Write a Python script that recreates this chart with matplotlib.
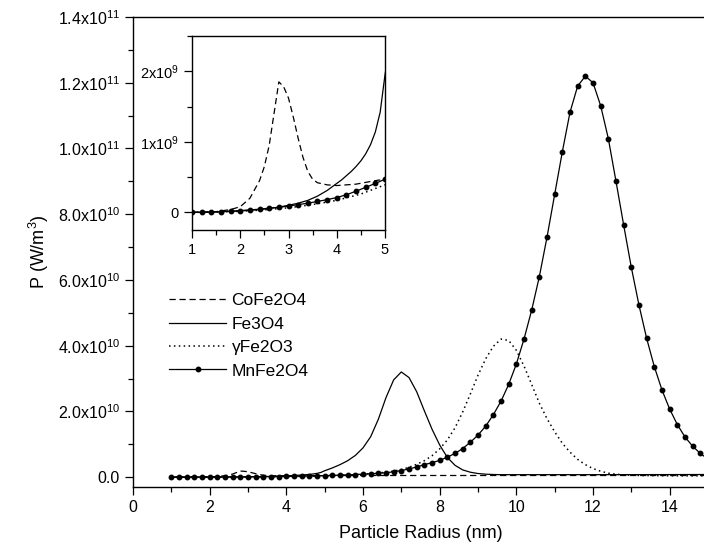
import numpy as np
import matplotlib
matplotlib.use("Agg")
import matplotlib.pyplot as plt
from matplotlib.ticker import MultipleLocator, FuncFormatter

plt.rcParams['font.family'] = ['Liberation Sans', 'DejaVu Sans']
plt.rcParams['mathtext.fontset'] = 'custom'
plt.rcParams['mathtext.rm'] = 'Liberation Sans'
plt.rcParams['mathtext.it'] = 'Liberation Sans:italic'

# data, P in units of 1e9 W/m^3
r_mn = [1.0, 1.2, 1.4, 1.6, 1.8, 2.0, 2.2, 2.4, 2.6, 2.8, 3.0, 3.2, 3.4, 3.6, 3.8,
        4.0, 4.2, 4.4, 4.6, 4.8, 5.0, 5.2, 5.4, 5.6, 5.8, 6.0, 6.2, 6.4, 6.6, 6.8,
        7.0, 7.2, 7.4, 7.6, 7.8, 8.0, 8.2, 8.4, 8.6, 8.8, 9.0, 9.2, 9.4, 9.6, 9.8,
        10.0, 10.2, 10.4, 10.6, 10.8, 11.0, 11.2, 11.4, 11.6, 11.8, 12.0, 12.2, 12.4,
        12.6, 12.8, 13.0, 13.2, 13.4, 13.6, 13.8, 14.0, 14.2, 14.4, 14.6, 14.8, 15.0]
p_mn = [0.0, 0.0, 0.005, 0.01, 0.015, 0.025, 0.035, 0.045, 0.06, 0.07, 0.09, 0.11, 0.13, 0.155, 0.18,
        0.21, 0.25, 0.30, 0.355, 0.41, 0.47, 0.54, 0.62, 0.70, 0.80, 0.91, 1.04, 1.18, 1.35, 1.62,
        2.0, 2.5, 3.1, 3.8, 4.4, 5.1, 6.1, 7.2, 8.7, 10.6, 12.8, 15.5, 19.0, 23.1, 28.2,
        34.4, 42.0, 50.8, 61.0, 73.0, 86.0, 99.0, 111.0, 119.0, 122.0, 120.0, 113.0, 103.0,
        90.0, 76.7, 63.8, 52.3, 42.2, 33.6, 26.5, 20.7, 16.0, 12.2, 9.4, 7.2, 5.5]

r_fe = [1.0, 1.4, 1.8, 2.0, 2.2, 2.4, 2.6, 2.8, 3.0, 3.2, 3.4, 3.6, 3.8, 4.0, 4.1, 4.2, 4.3,
        4.4, 4.5, 4.6, 4.7, 4.8, 4.9, 5.0, 5.2, 5.4, 5.6, 5.8, 6.0, 6.2, 6.4, 6.6, 6.8,
        7.0, 7.2, 7.4, 7.6, 7.8, 8.0, 8.2, 8.4, 8.6, 8.8, 9.0, 9.2, 9.4, 9.6, 10.0, 12.0,
        14.0, 15.0]
p_fe = [0.0, 0.005, 0.015, 0.02, 0.03, 0.04, 0.055, 0.075, 0.1, 0.13, 0.17, 0.23, 0.31, 0.41, 0.46,
        0.52, 0.58, 0.65, 0.73, 0.83, 0.96, 1.14, 1.42, 1.95, 2.8, 3.8, 5.0, 6.6, 8.9, 12.3,
        17.6, 24.2, 29.6, 32.0, 30.3, 26.0, 20.2, 14.6, 9.8, 6.0, 3.6, 2.2, 1.5, 1.1, 0.9, 0.8,
        0.75, 0.75, 0.75, 0.78, 0.8]

r_co = [1.0, 1.5, 1.8, 2.0, 2.2, 2.4, 2.5, 2.6, 2.7, 2.8, 2.9, 3.0, 3.1, 3.2, 3.3, 3.4,
        3.5, 3.6, 3.8, 4.0, 4.4, 4.8, 5.0, 6.0, 8.0, 10.0, 12.0, 15.0]
p_co = [0.0, 0.01, 0.04, 0.08, 0.2, 0.45, 0.65, 0.95, 1.4, 1.85, 1.78, 1.62, 1.35, 1.05, 0.78, 0.58,
        0.47, 0.42, 0.39, 0.38, 0.40, 0.45, 0.47, 0.5, 0.5, 0.5, 0.5, 0.5]

r_ga = [1.0, 1.5, 2.0, 2.5, 3.0, 3.5, 4.0, 4.5, 5.0, 5.5, 6.0, 6.4, 6.8, 7.0, 7.2, 7.4, 7.6,
        7.8, 8.0, 8.2, 8.4, 8.6, 8.8, 9.0, 9.2, 9.4, 9.6, 9.8, 10.0, 10.2, 10.4, 10.6, 10.8,
        11.0, 11.2, 11.4, 11.6, 11.8, 12.0, 12.2, 12.4, 12.6, 12.8, 13.2, 14.0, 15.0]
p_ga = [0.0, 0.005, 0.015, 0.035, 0.065, 0.11, 0.17, 0.26, 0.39, 0.58, 0.88, 1.25, 1.85, 2.3, 3.0, 3.9, 5.0,
        6.5, 8.6, 11.3, 15.0, 19.8, 25.3, 31.0, 36.0, 39.8, 42.0, 41.6, 38.6, 33.8, 28.2, 22.5, 17.8,
        13.8, 10.3, 7.6, 5.4, 3.8, 2.6, 1.8, 1.2, 0.9, 0.7, 0.5, 0.4, 0.4]

series = [
    ('CoFe2O4', r_co, p_co, dict(ls=(0, (5, 3)), lw=0.9)),
    ('Fe3O4', r_fe, p_fe, dict(ls='-', lw=0.9)),
    ('\u03b3Fe2O3', r_ga, p_ga, dict(ls=(0, (1, 2.2)), lw=1.1)),
    ('MnFe2O4', r_mn, p_mn, dict(ls='-', lw=0.9, marker='o', ms=3.2)),
]

W, H = 704, 557
fig = plt.figure(figsize=(W / 100, H / 100), dpi=100)

def sci(v, pos):
    if v == 0:
        return '0.0'
    e = int(np.floor(np.log10(abs(v))))
    m = v / 10 ** e
    return '%.1fx10$^{%d}$' % (m, e)

def sci_inset(v, pos):
    if v == 0:
        return '0'
    e = int(np.floor(np.log10(abs(v))))
    m = v / 10 ** e
    return '%dx10$^{%d}$' % (round(m), e)

def style(ax, fs):
    ax.tick_params(which='both', direction='out', width=0.9, labelsize=fs, color='black')
    ax.tick_params(which='major', length=6)
    ax.tick_params(which='minor', length=3.5)
    for s in ax.spines.values():
        s.set_linewidth(1.0)

# main axes
ax = fig.add_axes([133 / W, 1 - 487 / H, (708 - 133) / W, (487 - 17) / H])
for name, r, p, kw in series:
    ax.plot(r, np.array(p) * 1e9, color='black', label=name, **kw)
ax.set_xlim(0, 15)
ax.set_ylim(-3e9, 1.4e11)
ax.xaxis.set_major_locator(MultipleLocator(2))
ax.xaxis.set_minor_locator(MultipleLocator(1))
ax.yaxis.set_major_locator(MultipleLocator(2e10))
ax.yaxis.set_minor_locator(MultipleLocator(1e10))
ax.yaxis.set_major_formatter(FuncFormatter(sci))
style(ax, 11.5)
ax.set_xlabel('Particle Radius (nm)', fontsize=13, labelpad=7)
ax.set_ylabel('P (W/m$^3$)', fontsize=13, labelpad=5)
ax.legend(loc='upper left', bbox_to_anchor=(162 / W, 1 - 286 / H), bbox_transform=fig.transFigure,
          frameon=False, fontsize=12.5, handlelength=3.3, handletextpad=0.3, labelspacing=0.48,
          borderaxespad=0)

# inset
ins = fig.add_axes([192 / W, 1 - 230 / H, (385 - 192) / W, (230 - 36) / H])
for name, r, p, kw in series:
    ins.plot(r, np.array(p) * 1e9, color='black', **kw)
ins.set_xlim(1, 5)
ins.set_ylim(-0.25e9, 2.5e9)
ins.xaxis.set_major_locator(MultipleLocator(1))
ins.xaxis.set_minor_locator(MultipleLocator(0.5))
ins.yaxis.set_major_locator(MultipleLocator(1e9))
ins.yaxis.set_minor_locator(MultipleLocator(0.5e9))
ins.yaxis.set_major_formatter(FuncFormatter(sci_inset))
style(ins, 10.5)

fig.savefig('out.png', dpi=100)
